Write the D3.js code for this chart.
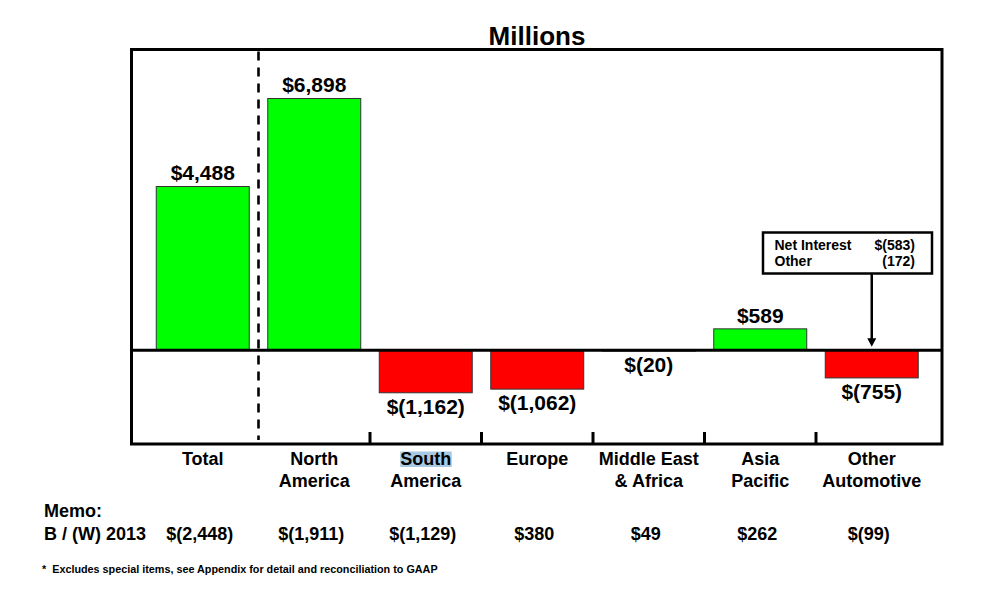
<!DOCTYPE html>
<html>
<head>
<meta charset="utf-8">
<script src="https://cdn.jsdelivr.net/npm/d3@7/dist/d3.min.js"></script>
<style>
  html, body { margin: 0; padding: 0; background: #fff; }
  svg { display: block; font-family: "Liberation Sans", Arial, Helvetica, sans-serif; font-weight: bold; }
</style>
</head>
<body>
<svg id="chart" width="1004" height="589"></svg>
<script>
// ---- data ----
const categories = ["Total", "North America", "South America", "Europe", "Middle East & Africa", "Asia Pacific", "Other Automotive"];
const categoryLines = [["Total"], ["North", "America"], ["South", "America"], ["Europe"], ["Middle East", "& Africa"], ["Asia", "Pacific"], ["Other", "Automotive"]];
const values = [4488, 6898, -1162, -1062, -20, 589, -755];
const valueLabels = ["$4,488", "$6,898", "$(1,162)", "$(1,062)", "$(20)", "$589", "$(755)"];
const memoLabels = ["$(2,448)", "$(1,911)", "$(1,129)", "$380", "$49", "$262", "$(99)"];
const calloutRows = [["Net Interest", "$(583)"], ["Other", "(172)"]];

const svg = d3.select("#chart");

const frame = { left: 131.5, right: 942, top: 49.5, bottom: 444 };

const x = d3.scaleBand()
  .domain(categories)
  .range([147, 927.5])
  .paddingInner(0.166)
  .paddingOuter(0.083);

const y = d3.scaleLinear()
  .domain([-2565, 8240])
  .range([frame.bottom, frame.top]);

// bars
svg.append("g").selectAll("rect")
  .data(values)
  .join("rect")
  .attr("x", (d, i) => x(categories[i]))
  .attr("width", x.bandwidth())
  .attr("y", d => y(Math.max(0, d)))
  .attr("height", d => Math.abs(y(d) - y(0)))
  .attr("fill", d => d >= 0 ? "#00ff00" : "#ff0000")
  .attr("stroke", "#333")
  .attr("stroke-width", 1);

// dashed separator between Total and North America
const sepX = (x(categories[0]) + x.bandwidth() + x(categories[1])) / 2;
svg.append("line")
  .attr("x1", sepX).attr("x2", sepX)
  .attr("y1", frame.top + 2).attr("y2", frame.bottom - 4)
  .attr("stroke", "#000").attr("stroke-width", 2.6)
  .attr("stroke-dasharray", "9,7");

// zero line
svg.append("line")
  .attr("x1", frame.left).attr("x2", frame.right)
  .attr("y1", y(0)).attr("y2", y(0))
  .attr("stroke", "#000").attr("stroke-width", 3);

// frame
svg.append("rect")
  .attr("x", frame.left).attr("y", frame.top)
  .attr("width", frame.right - frame.left).attr("height", frame.bottom - frame.top)
  .attr("fill", "none").attr("stroke", "#000").attr("stroke-width", 3);

// bottom ticks between categories (from South America onward)
const tickXs = categories.slice(2).map(c => x(c) - x.step() * x.paddingInner() / 2);
svg.append("g").selectAll("line")
  .data(tickXs)
  .join("line")
  .attr("x1", d => d).attr("x2", d => d)
  .attr("y1", frame.bottom - 12).attr("y2", frame.bottom)
  .attr("stroke", "#000").attr("stroke-width", 3);

// value labels
svg.append("g").selectAll("text")
  .data(values)
  .join("text")
  .attr("x", (d, i) => x(categories[i]) + x.bandwidth() / 2)
  .attr("y", d => d >= 0 ? y(d) - 6 : y(d) + 21)
  .attr("text-anchor", "middle")
  .attr("font-size", 21)
  .text((d, i) => valueLabels[i]);

// title
svg.append("text")
  .attr("x", 537).attr("y", 44.5)
  .attr("text-anchor", "middle")
  .attr("font-size", 26)
  .text("Millions");

// highlight behind "South"
const saCx = x(categories[2]) + x.bandwidth() / 2;
svg.append("rect")
  .attr("x", saCx - 25.5).attr("y", 451.5)
  .attr("width", 51.5).attr("height", 15.5)
  .attr("fill", "#a7c9e2");

// category labels
const catG = svg.append("g");
categoryLines.forEach((lines, i) => {
  const t = catG.append("text")
    .attr("x", x(categories[i]) + x.bandwidth() / 2)
    .attr("y", 465)
    .attr("text-anchor", "middle")
    .attr("font-size", 18);
  lines.forEach((ln, j) => {
    t.append("tspan")
      .attr("x", x(categories[i]) + x.bandwidth() / 2)
      .attr("dy", j === 0 ? 0 : 22)
      .text(ln);
  });
});

// memo
svg.append("text").attr("x", 44).attr("y", 517).attr("font-size", 18).text("Memo:");
svg.append("text").attr("x", 44).attr("y", 540).attr("font-size", 18).text("B / (W) 2013");
svg.append("g").selectAll("text")
  .data(memoLabels)
  .join("text")
  .attr("x", (d, i) => x(categories[i]) + x.bandwidth() / 2 - 3)
  .attr("y", 540)
  .attr("text-anchor", "middle")
  .attr("font-size", 18)
  .text(d => d);

// footnote
svg.append("text")
  .attr("x", 42).attr("y", 573)
  .attr("font-size", 10.8)
  .attr("xml:space", "preserve")
  .text("*  Excludes special items, see Appendix for detail and reconciliation to GAAP");

// callout box
const box = { x: 763, y: 232.5, w: 169, h: 41 };
svg.append("rect")
  .attr("x", box.x).attr("y", box.y).attr("width", box.w).attr("height", box.h)
  .attr("fill", "#fff").attr("stroke", "#000").attr("stroke-width", 2.5);
calloutRows.forEach((r, i) => {
  svg.append("text").attr("x", 774.5).attr("y", 250 + i * 15.7).attr("font-size", 14).text(r[0]);
  svg.append("text").attr("x", 915).attr("y", 250 + i * 15.7).attr("font-size", 14).attr("text-anchor", "end").text(r[1]);
});

// arrow from callout to Other Automotive bar
const arrowX = x(categories[6]) + x.bandwidth() / 2;
svg.append("line")
  .attr("x1", arrowX).attr("x2", arrowX)
  .attr("y1", box.y + box.h).attr("y2", y(0) - 10)
  .attr("stroke", "#000").attr("stroke-width", 2.5);
svg.append("path")
  .attr("d", `M${arrowX - 4.5},${y(0) - 12} L${arrowX + 4.5},${y(0) - 12} L${arrowX},${y(0) - 3.5} Z`)
  .attr("fill", "#000");
</script>
</body>
</html>
